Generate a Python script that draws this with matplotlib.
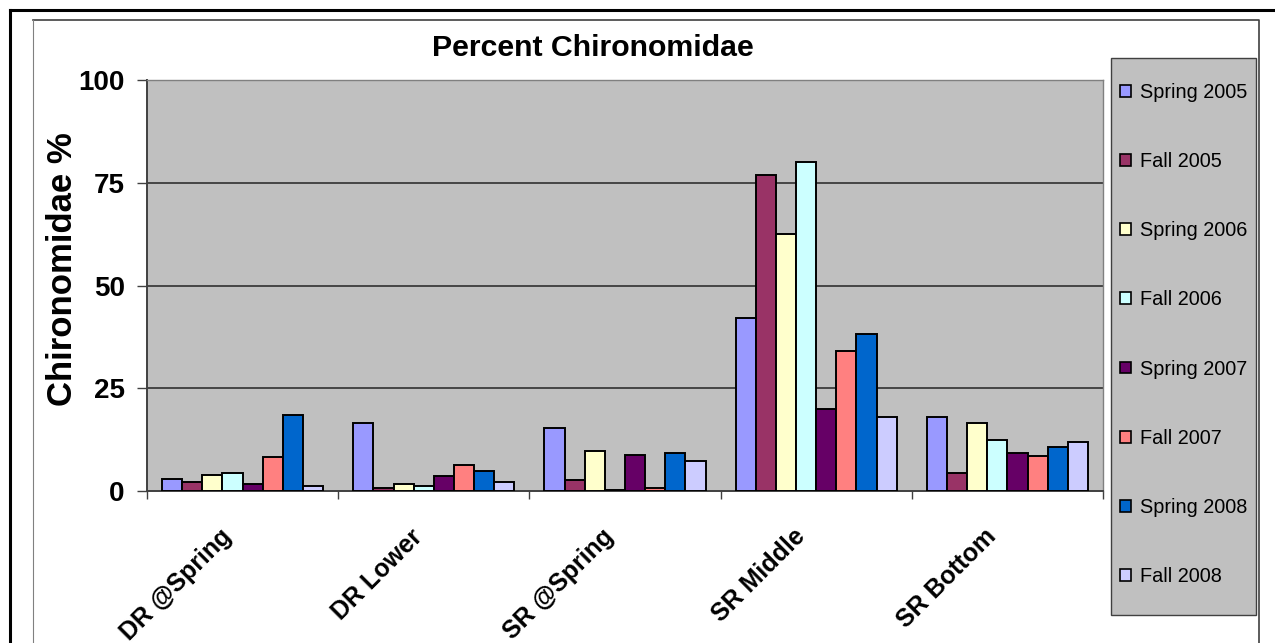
import matplotlib
matplotlib.use("Agg")
import matplotlib.pyplot as plt
import numpy as np
from matplotlib.patches import Patch, Rectangle
from matplotlib.lines import Line2D

plt.rcParams['font.family'] = ['Liberation Sans', 'DejaVu Sans']

sites = ["DR @Spring", "DR Lower", "SR @Spring", "SR Middle", "SR Bottom"]
seasons = ["Spring 2005", "Fall 2005", "Spring 2006", "Fall 2006",
           "Spring 2007", "Fall 2007", "Spring 2008", "Fall 2008"]
spring_2005 = [3.0, 16.6, 15.3, 42.0, 18.1]
fall_2005 = [2.1, 0.7, 2.7, 76.8, 4.5]
spring_2006 = [3.9, 1.7, 9.7, 62.6, 16.6]
fall_2006 = [4.5, 1.2, 0.3, 80.0, 12.4]
spring_2007 = [1.6, 3.6, 8.7, 20.0, 9.3]
fall_2007 = [8.2, 6.3, 0.65, 34.0, 8.6]
spring_2008 = [18.6, 4.9, 9.3, 38.3, 10.6]
fall_2008 = [1.1, 2.2, 7.3, 18.1, 11.9]
series = [spring_2005, fall_2005, spring_2006, fall_2006,
          spring_2007, fall_2007, spring_2008, fall_2008]
colors = ["#9999FF", "#993366", "#FFFFCC", "#CCFFFF",
          "#660066", "#FF8080", "#0066CC", "#CCCCFF"]
y_ticks = [0, 25, 50, 75, 100]

W, H = 1275, 643
fig = plt.figure(figsize=(W / 100, H / 100), dpi=100)
fig.patch.set_facecolor("white")


def fx(px):
    return px / W


def fy(py):
    return 1 - py / H


def px_rect(x0, y0, x1, y1):
    return [x0 / W, 1 - y1 / H, (x1 - x0) / W, (y1 - y0) / H]


# outer frame and chart-area frame
fig.add_artist(Line2D([fx(10), 1.0], [fy(10), fy(10)], color="black", lw=2.2,
                      transform=fig.transFigure))
fig.add_artist(Line2D([fx(10), fx(10)], [0, fy(10)], color="black", lw=2.2,
                      transform=fig.transFigure))
fig.add_artist(Line2D([fx(33), fx(1259), fx(1259)], [fy(20), fy(20), 0],
                      color="#404040", lw=1.2, transform=fig.transFigure))
fig.add_artist(Line2D([fx(33), fx(33)], [fy(20), 0], color="#808080", lw=0.8,
                      transform=fig.transFigure))

ax = fig.add_axes(px_rect(147, 80, 1103, 491))
ax.set_facecolor("#C0C0C0")

n_sites = len(sites)
n_series = len(series)
gap = 1.5
bw = 1.0 / (n_series + gap)
x = np.arange(n_sites)
for i, (vals, c) in enumerate(zip(series, colors)):
    offs = -0.5 + gap * bw / 2 + (i + 0.5) * bw
    ax.bar(x + offs, vals, width=bw, color=c, edgecolor="black", linewidth=1.4,
           zorder=3, label=seasons[i])

ax.set_xlim(-0.5, n_sites - 0.5)
ax.set_ylim(0, 100)
ax.set_yticks(y_ticks)
ax.set_yticklabels([str(v) for v in y_ticks], fontsize=20, fontweight="bold")
for v in y_ticks[1:-1]:
    ax.axhline(v, color="#303030", lw=1.2, zorder=1)

ax.set_xticks(np.arange(n_sites + 1) - 0.5)
ax.set_xticklabels([])
ax.tick_params(axis="x", length=6, width=1, color="#404040", direction="out")
ax.tick_params(axis="y", length=7, width=1, color="#404040", direction="out", pad=9)
for s in ["left", "bottom"]:
    ax.spines[s].set_color("#404040")
    ax.spines[s].set_linewidth(1.4)
for s in ["top", "right"]:
    ax.spines[s].set_color("#808080")
    ax.spines[s].set_linewidth(1.0)

for i, name in enumerate(sites):
    ax.annotate(name, xy=(i, 0), xycoords=("data", "axes fraction"),
                xytext=(-15, -42), textcoords="offset pixels",
                rotation=45, rotation_mode="anchor", ha="right", va="center",
                fontsize=18, fontweight="bold")

ax.set_ylabel("Chironomidae %", fontsize=25, fontweight="bold")
ax.yaxis.label.set_rotation_mode("default")
ax.yaxis.label.set_va("center")
ax.yaxis.label.set_ha("center")
ax.yaxis.set_label_coords((62 - 147) / 956, (491 - 269) / 411)

fig.text(fx(593), fy(55.7), "Percent Chironomidae", ha="center", va="baseline",
         fontsize=21.8, fontweight="bold")

# legend box
fig.add_artist(Rectangle((fx(1111), fy(615)), fx(1256) - fx(1111), fy(58) - fy(615),
                         transform=fig.transFigure, facecolor="#C0C0C0",
                         edgecolor="#404040", linewidth=1.0, zorder=0))
handles = [Patch(facecolor=c, edgecolor="black", linewidth=1.2, label=s)
           for c, s in zip(colors, seasons)]
leg = fig.legend(handles=handles, loc="center left",
                 bbox_to_anchor=(fx(1120), fy(334.5)),
                 fontsize=14.3, frameon=False,
                 handlelength=0.55, handleheight=0.55, handletextpad=0.45,
                 labelspacing=2.52, borderpad=0, borderaxespad=0)

fig.savefig("out.png", dpi=100, facecolor="white")
